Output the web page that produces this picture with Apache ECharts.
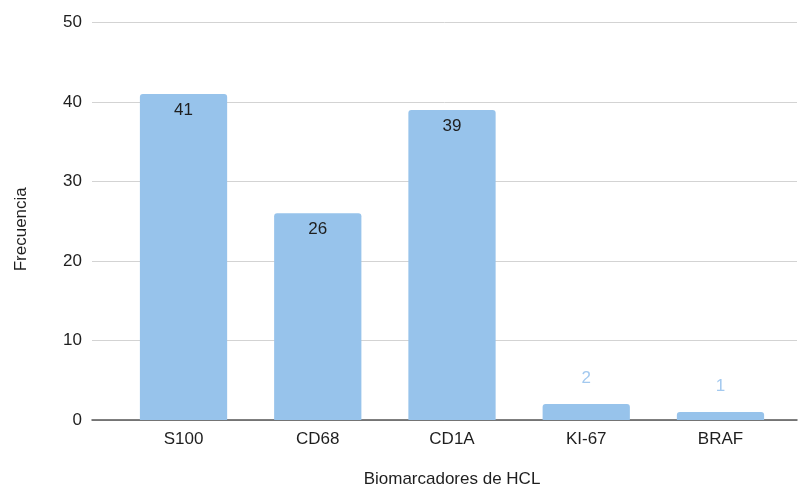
<!DOCTYPE html>
<html>
<head>
<meta charset="utf-8">
<script src="https://cdn.jsdelivr.net/npm/echarts@6/dist/echarts.min.js"></script>
<style>
  html, body { margin: 0; padding: 0; background: #ffffff; }
  #chart { width: 799px; height: 489px; }
</style>
</head>
<body>
<div id="chart"></div>
<script>
// Biomarker frequencies
var categories = ['S100', 'CD68', 'CD1A', 'KI-67', 'BRAF'];
var frequencies = [41, 26, 39, 2, 1];
var yTicks = { min: 0, max: 50, interval: 10 };

var FONT = '"Liberation Sans", Arial, Helvetica, sans-serif';
var FONT_SIZE = 17;
var TEXT_COLOR = '#1e1e1e';
var BAR_COLOR = '#97c3eb';

// Short bars carry their value above the bar, tall bars inside the top
var barData = frequencies.map(function (v) {
  var small = v < 5;
  return {
    value: v,
    label: small
      ? { position: 'top', distance: 17, color: '#a3c9ef' }
      : { position: 'insideTop', distance: 8, color: TEXT_COLOR }
  };
});

var chart = echarts.init(document.getElementById('chart'), null, { renderer: 'canvas' });
chart.setOption({
  animation: false,
  backgroundColor: '#ffffff',
  textStyle: { fontFamily: FONT },
  grid: [
    // frame: gridlines and baseline
    { left: 92, right: 2, top: 22.5, bottom: 69, containLabel: false, outerBoundsMode: 'none' },
    // bars and category labels
    { left: 116.4, right: 11.4, top: 22.5, bottom: 69, containLabel: false, outerBoundsMode: 'none' }
  ],
  xAxis: [
    {
      type: 'value', gridIndex: 0, min: 0, max: 1,
      axisLine: { show: true, onZero: false, lineStyle: { color: '#555555', width: 1.5 } },
      axisTick: { show: false }, axisLabel: { show: false }, splitLine: { show: false }
    },
    {
      type: 'category', gridIndex: 1, data: categories,
      axisLine: { show: false }, axisTick: { show: false },
      axisLabel: { fontFamily: FONT, fontSize: FONT_SIZE, color: TEXT_COLOR, margin: 10.5 },
      name: 'Biomarcadores de HCL', nameLocation: 'middle', nameGap: 51,
      nameTextStyle: { fontFamily: FONT, fontSize: FONT_SIZE, color: TEXT_COLOR }
    }
  ],
  yAxis: [
    {
      type: 'value', gridIndex: 0, min: yTicks.min, max: yTicks.max, interval: yTicks.interval,
      axisLine: { show: false }, axisTick: { show: false },
      axisLabel: { fontFamily: FONT, fontSize: FONT_SIZE, color: TEXT_COLOR, margin: 10 },
      splitLine: { lineStyle: { color: '#d3d3d3', width: 1 } },
      name: 'Frecuencia', nameLocation: 'middle', nameGap: 62.5, nameRotate: 90,
      nameTextStyle: { fontFamily: FONT, fontSize: FONT_SIZE, color: TEXT_COLOR, padding: [0, 16, 0, 0] }
    },
    {
      type: 'value', gridIndex: 1, min: yTicks.min, max: yTicks.max, interval: yTicks.interval,
      show: false, splitLine: { show: false }
    }
  ],
  series: [{
    type: 'bar',
    xAxisIndex: 1, yAxisIndex: 1,
    data: barData,
    barCategoryGap: '35%',
    itemStyle: { color: BAR_COLOR, borderRadius: [3, 3, 0, 0] },
    label: { show: true, fontFamily: FONT, fontSize: FONT_SIZE }
  }]
});
</script>
</body>
</html>
